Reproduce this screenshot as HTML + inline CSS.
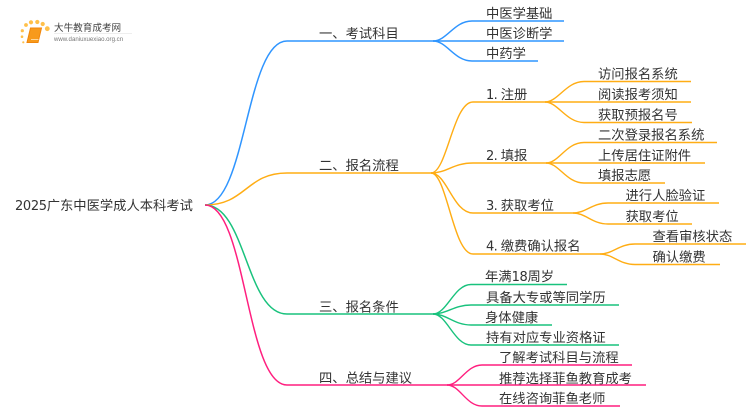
<!DOCTYPE html>
<html>
<head>
<meta charset="utf-8">
<style>
html,body{margin:0;padding:0;background:#fff;width:750px;height:410px;overflow:hidden}
svg{display:block}
text{font-family:"DejaVu Sans","Noto Sans CJK SC",sans-serif;font-size:13.3px;fill:#333}
tspan{font-size:13px;letter-spacing:-.35px}
tspan.n{letter-spacing:-.6px}
path{fill:none;stroke-width:1.4}
.b path{stroke:#2f95ff}
.o path{stroke:#ffad14}
.g path{stroke:#19c27d}
.p path{stroke:#ff1f7f}
</style>
</head>
<body>
<svg width="750" height="410" viewBox="0 0 750 410" xmlns="http://www.w3.org/2000/svg">
<!-- logo -->
<g>
<g fill="#ffc04a">
<circle cx="22" cy="36.700" r="1.300"/><circle cx="22.300" cy="30.700" r="1.600"/><circle cx="26" cy="25" r="1.900"/>
<circle cx="31" cy="22.300" r="2.100"/><circle cx="37.300" cy="22" r="2.100"/><circle cx="42.700" cy="24" r="2.100"/><circle cx="47.300" cy="28.700" r="2.400"/><circle cx="23.300" cy="42.300" r="1.100"/>
</g>
<path d="M30.500 28 H41.500 L38 42.500 H27 Z" style="fill:#f79a1c;stroke:#f0860c;stroke-width:1"/>
<path d="M31 39.500 H38.500" style="stroke:#ffd79a;stroke-width:1"/>
<text x="54" y="31" style="font-size:9.600px;fill:#444;font-family:'Noto Sans CJK SC',sans-serif">大牛教育成考网</text>
<path d="M54 33.500 H132" style="stroke:#eeeeee;stroke-width:1"/>
<text x="54" y="41" style="font-size:6.100px;fill:#777;font-family:'Liberation Sans',sans-serif">www.daniuxuexiao.org.cn</text>
</g>

<text x="15" y="210"><tspan>2025</tspan>广东中医学成人本科考试</text>

<!-- branch 1 -->
<g class="b">
<path d="M205 205 C246 205 246 41 287 41 H433" style="stroke-width:1.500"/>
<path d="M433 41 C447 41 454 21 472 21 H564"/>
<path d="M433 41 H564"/>
<path d="M433 41 C447 41 454 61 472 61 H538"/>
</g>
<text x="319" y="38">一、考试科目</text>
<text x="486" y="18">中医学基础</text>
<text x="486" y="38">中医诊断学</text>
<text x="486" y="58">中药学</text>

<!-- branch 2 -->
<g class="o">
<path d="M205 205 C246 205 246 173 287 173 H431" style="stroke-width:1.500"/>
<path d="M431 173 C447 173 453 102 473 102 H545"/>
<path d="M431 173 C447 173 453 163 473 163 H546"/>
<path d="M431 173 C447 173 453 213 473 213 H573"/>
<path d="M431 173 C447 173 453 254 473 254 H600"/>
<path d="M545 102 C558 102 566 81.500 584 81.500 H691"/>
<path d="M545 102 H691"/>
<path d="M545 102 C558 102 566 122.500 584 122.500 H692"/>
<path d="M546 163 C559 163 566 142.500 584 142.500 H717"/>
<path d="M546 163 H705"/>
<path d="M546 163 C559 163 566 183 584 183 H665"/>
<path d="M573 213 C586 213 592 203 608 203 H719"/>
<path d="M573 213 C586 213 592 224 608 224 H692"/>
<path d="M600 254 C613 254 619 244 635 244 H746"/>
<path d="M600 254 C613 254 619 264.500 635 264.500 H720"/>
</g>
<text x="319" y="170">二、报名流程</text>
<text x="486" y="99"><tspan class="n">1. </tspan>注册</text>
<text x="486" y="160"><tspan class="n">2. </tspan>填报</text>
<text x="486" y="210"><tspan class="n">3. </tspan>获取考位</text>
<text x="486" y="250.500"><tspan class="n">4. </tspan>缴费确认报名</text>
<text x="598" y="78.500">访问报名系统</text>
<text x="598" y="99">阅读报考须知</text>
<text x="598" y="119.500">获取预报名号</text>
<text x="598" y="139.500">二次登录报名系统</text>
<text x="598" y="160">上传居住证附件</text>
<text x="598" y="180">填报志愿</text>
<text x="625.500" y="200">进行人脸验证</text>
<text x="625.500" y="221">获取考位</text>
<text x="652.500" y="241">查看审核状态</text>
<text x="652.500" y="261.500">确认缴费</text>

<!-- branch 3 -->
<g class="g">
<path d="M205 205 C246 205 246 314 287 314 H433" style="stroke-width:1.500"/>
<path d="M433 314 C447 314 454 284.500 471 284.500 H567"/>
<path d="M433 314 C447 314 454 305 471 305 H619"/>
<path d="M433 314 C447 314 454 325 471 325 H552"/>
<path d="M433 314 C447 314 454 345 471 345 H619"/>
</g>
<text x="319" y="311.500">三、报名条件</text>
<text x="485" y="281">年满<tspan>18</tspan>周岁</text>
<text x="486" y="302">具备大专或等同学历</text>
<text x="485" y="322">身体健康</text>
<text x="486" y="342">持有对应专业资格证</text>

<!-- branch 4 -->
<g class="p">
<path d="M205 205 C246 205 246 385 287 385 H447" style="stroke-width:1.500"/>
<path d="M447 385 C460 385 466 365 482 365 H632"/>
<path d="M447 385 H646"/>
<path d="M447 385 C460 385 466 406 482 406 H620"/>
</g>
<text x="319" y="382.500">四、总结与建议</text>
<text x="499" y="362">了解考试科目与流程</text>
<text x="499" y="383">推荐选择菲鱼教育成考</text>
<text x="499" y="403">在线咨询菲鱼老师</text>
</svg>
</body>
</html>
